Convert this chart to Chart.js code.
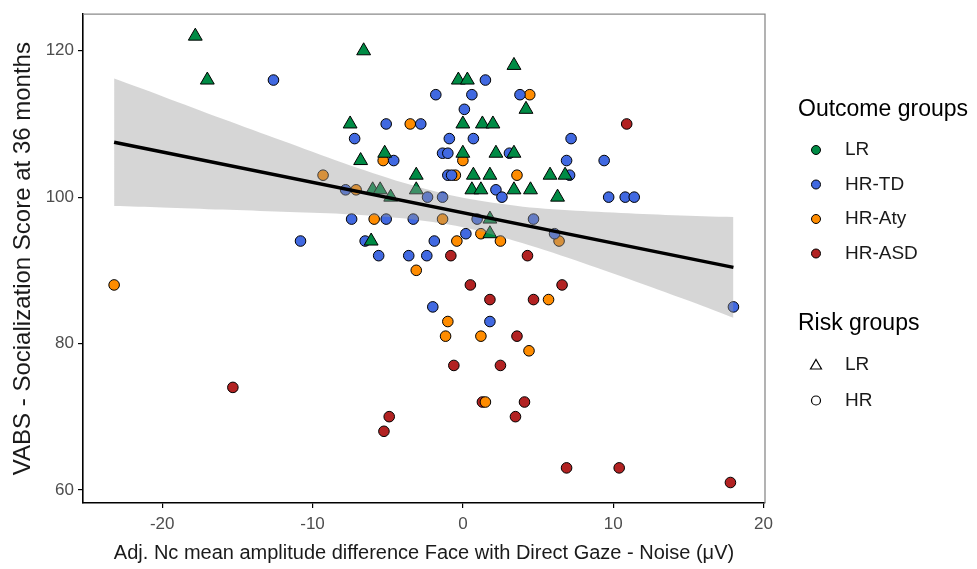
<!DOCTYPE html>
<html>
<head>
<meta charset="utf-8">
<script src="https://cdn.jsdelivr.net/npm/chart.js@4.4.0/dist/chart.umd.min.js"></script>
<style>
  html, body { margin: 0; padding: 0; background: #fff; }
  #wrap { width: 977px; height: 569px; }
</style>
</head>
<body>
<div id="wrap"><canvas id="chart" width="977" height="569"></canvas></div>
<script>
// --- Data ---
const lrPoints = [
    [-17.8, 122], [-17.0, 116], [-6.6, 120], [3.4, 118], [-0.3, 116], [0.3, 116],
    [4.2, 112], [-7.5, 110], [0.0, 110], [1.3, 110], [2.0, 110], [-6.8, 105],
    [-5.2, 106], [0.0, 106], [2.2, 106], [3.4, 106], [-3.1, 103], [0.7, 103],
    [1.8, 103], [5.8, 103], [6.8, 103], [-6.0, 101], [-5.5, 101], [-4.8, 100],
    [-3.1, 101], [0.6, 101], [1.2, 101], [3.4, 101], [4.5, 101], [1.8, 97],
    [1.8, 95], [-6.1, 94], [6.3, 100]
];
const tdPoints = [
    [-12.6, 116], [-10.8, 94], [1.5, 116], [-1.8, 114], [0.6, 114], [3.8, 114],
    [0.1, 112], [-5.1, 110], [-2.8, 110], [-7.2, 108], [-0.9, 108], [0.7, 108],
    [-4.6, 105], [-1.35, 106], [-1.0, 106], [3.1, 106], [-1.0, 103], [-0.75, 103],
    [-7.8, 101], [2.2, 101], [2.6, 100], [-2.35, 100], [-1.35, 100], [-7.4, 97],
    [-5.1, 97], [-3.3, 97], [0.95, 97], [4.7, 97], [0.2, 95], [-6.5, 94],
    [-1.9, 94], [-5.6, 92], [-3.6, 92], [-2.4, 92], [-2.0, 85], [1.8, 83],
    [18.0, 85], [7.2, 108], [6.9, 105], [9.4, 105], [7.1, 103], [9.7, 100],
    [10.8, 100], [11.4, 100], [6.1, 95]
];
const atyPoints = [
    [-9.3, 103], [-23.2, 88], [4.45, 114], [-3.5, 110], [-5.3, 105], [0.0, 105],
    [-0.5, 103], [3.6, 103], [-7.1, 101], [-5.9, 97], [-1.35, 97], [1.2, 95],
    [-0.4, 94], [2.5, 94], [6.4, 94], [-3.1, 90], [5.7, 86], [-1.0, 83],
    [-1.15, 81], [1.2, 81], [4.4, 79], [1.5, 72]
];
const asdPoints = [
    [-15.3, 74], [-0.8, 92], [4.3, 92], [0.5, 88], [1.8, 86], [4.7, 86],
    [6.6, 88], [3.6, 81], [-0.6, 77], [2.5, 77], [1.3, 72], [4.1, 72],
    [3.5, 70], [-4.9, 70], [-5.25, 68], [6.9, 63], [10.4, 63], [17.8, 61],
    [10.9, 110]
];

// regression line + confidence band
const fitX = [-23.2, 18.0];
const fitY = [107.5, 90.4];
const bandX = [-23.2, -20, -16, -12, -8, -4, 0, 4, 8, 12, 16, 18.0];
const bandUpper = [116.2, 113.8, 110.7, 107.7, 104.7, 102.0, 99.9, 98.7, 98.1, 97.7, 97.4, 97.3];
const bandLower = [98.8, 98.6, 98.3, 98.0, 97.7, 97.1, 95.9, 93.7, 91.0, 88.1, 85.1, 83.5];

const xTicks = [-20, -10, 0, 10, 20];
const yTicks = [60, 80, 100, 120];

const outcomeLabels = ['LR', 'HR-TD', 'HR-Aty', 'HR-ASD'];
const outcomeColors = ['#008B45', '#4169E1', '#FF8C00', '#B22222'];
const riskLabels = ['LR', 'HR'];

const FONT = "'Liberation Sans', Arial, sans-serif";

const toXY = pts => pts.map(p => ({ x: p[0], y: p[1] }));

function pointSet(label, pts, color, style, radius) {
    return {
        type: 'scatter',
        label: label,
        data: toXY(pts),
        backgroundColor: color,
        borderColor: '#000',
        borderWidth: 1,
        pointStyle: style,
        pointRadius: radius,
        pointHoverRadius: radius
    };
}

// --- frame (top/right) + legend ---
const frameAndLegend = {
    id: 'frameAndLegend',
    afterDraw(chart) {
        const { ctx, chartArea: a } = chart;
        ctx.save();
        ctx.strokeStyle = '#8a8a8a';
        ctx.lineWidth = 1.3;
        ctx.beginPath();
        ctx.moveTo(a.left, a.top);
        ctx.lineTo(a.right, a.top);
        ctx.lineTo(a.right, a.bottom);
        ctx.stroke();

        const lx = 798, dotX = 816, textX = 845;
        ctx.fillStyle = '#000';
        ctx.textBaseline = 'middle';
        ctx.textAlign = 'left';
        ctx.font = `23px ${FONT}`;
        ctx.fillText('Outcome groups', lx, 110);

        ctx.font = `19px ${FONT}`;
        outcomeLabels.forEach((lab, i) => {
            const y = 150 + i * 34.5;
            ctx.beginPath();
            ctx.arc(dotX, y, 4.5, 0, Math.PI * 2);
            ctx.fillStyle = outcomeColors[i];
            ctx.fill();
            ctx.strokeStyle = '#000';
            ctx.lineWidth = 1;
            ctx.stroke();
            ctx.fillStyle = '#1a1a1a';
            ctx.fillText(lab, textX, y);
        });

        ctx.font = `23px ${FONT}`;
        ctx.fillStyle = '#000';
        ctx.fillText('Risk groups', lx, 324);

        ctx.font = `19px ${FONT}`;
        ctx.strokeStyle = '#000';
        ctx.lineWidth = 1.2;
        riskLabels.forEach((lab, i) => {
            const y = 365 + i * 35.5;
            ctx.beginPath();
            if (i === 0) {
                ctx.moveTo(dotX, y - 5.5);
                ctx.lineTo(dotX + 5.5, y + 4);
                ctx.lineTo(dotX - 5.5, y + 4);
                ctx.closePath();
            } else {
                ctx.arc(dotX, y, 4.5, 0, Math.PI * 2);
            }
            ctx.stroke();
            ctx.fillStyle = '#1a1a1a';
            ctx.fillText(lab, textX, y);
        });
        ctx.restore();
    }
};

const ctx = document.getElementById('chart').getContext('2d');

new Chart(ctx, {
    type: 'scatter',
    data: {
        datasets: [
            {
                type: 'line',
                label: 'fit',
                data: fitX.map((x, i) => ({ x: x, y: fitY[i] })),
                borderColor: '#000',
                borderWidth: 3.5,
                pointRadius: 0,
                fill: false
            },
            {
                type: 'line',
                label: 'ci-upper',
                data: bandX.map((x, i) => ({ x: x, y: bandUpper[i] })),
                borderWidth: 0,
                pointRadius: 0,
                tension: 0.3,
                backgroundColor: 'rgba(153,153,153,0.4)',
                fill: '+1'
            },
            {
                type: 'line',
                label: 'ci-lower',
                data: bandX.map((x, i) => ({ x: x, y: bandLower[i] })),
                borderWidth: 0,
                pointRadius: 0,
                tension: 0.3,
                fill: false
            },
            pointSet('LR', lrPoints, outcomeColors[0], 'triangle', 8),
            pointSet('HR-TD', tdPoints, outcomeColors[1], 'circle', 5.3),
            pointSet('HR-Aty', atyPoints, outcomeColors[2], 'circle', 5.3),
            pointSet('HR-ASD', asdPoints, outcomeColors[3], 'circle', 5.3)
        ]
    },
    options: {
        responsive: false,
        animation: false,
        layout: { padding: { top: 11, right: 212, bottom: 0, left: 0 } },
        plugins: {
            legend: { display: false },
            tooltip: { enabled: false }
        },
        scales: {
            x: {
                type: 'linear',
                min: -25.27,
                max: 20.1,
                afterBuildTicks: s => { s.ticks = xTicks.map(v => ({ value: v })); },
                afterFit: s => { s.height = 66; },
                grid: { drawOnChartArea: false, drawTicks: true, tickLength: 5, color: '#000', lineWidth: 1.2 },
                border: { display: true, color: '#000', width: 1.6 },
                ticks: { color: '#4d4d4d', font: { family: FONT, size: 17 }, padding: 6, maxRotation: 0 },
                title: {
                    display: true,
                    text: 'Adj. Nc mean amplitude difference Face with Direct Gaze - Noise (\u03BCV)',
                    color: '#1a1a1a',
                    font: { family: FONT, size: 20 },
                    padding: { top: 0, bottom: 4 }
                }
            },
            y: {
                type: 'linear',
                min: 58.2,
                max: 125.0,
                afterBuildTicks: s => { s.ticks = yTicks.map(v => ({ value: v })); },
                afterFit: s => { s.width = 83; },
                grid: { drawOnChartArea: false, drawTicks: true, tickLength: 5, color: '#000', lineWidth: 1.2 },
                border: { display: true, color: '#000', width: 1.6 },
                ticks: { color: '#4d4d4d', font: { family: FONT, size: 17 }, padding: 4 },
                title: {
                    display: true,
                    text: 'VABS - Socialization Score at 36 months',
                    color: '#1a1a1a',
                    font: { family: FONT, size: 24 },
                    padding: { top: 9, bottom: 0 }
                }
            }
        }
    },
    plugins: [frameAndLegend]
});
</script>
</body>
</html>
